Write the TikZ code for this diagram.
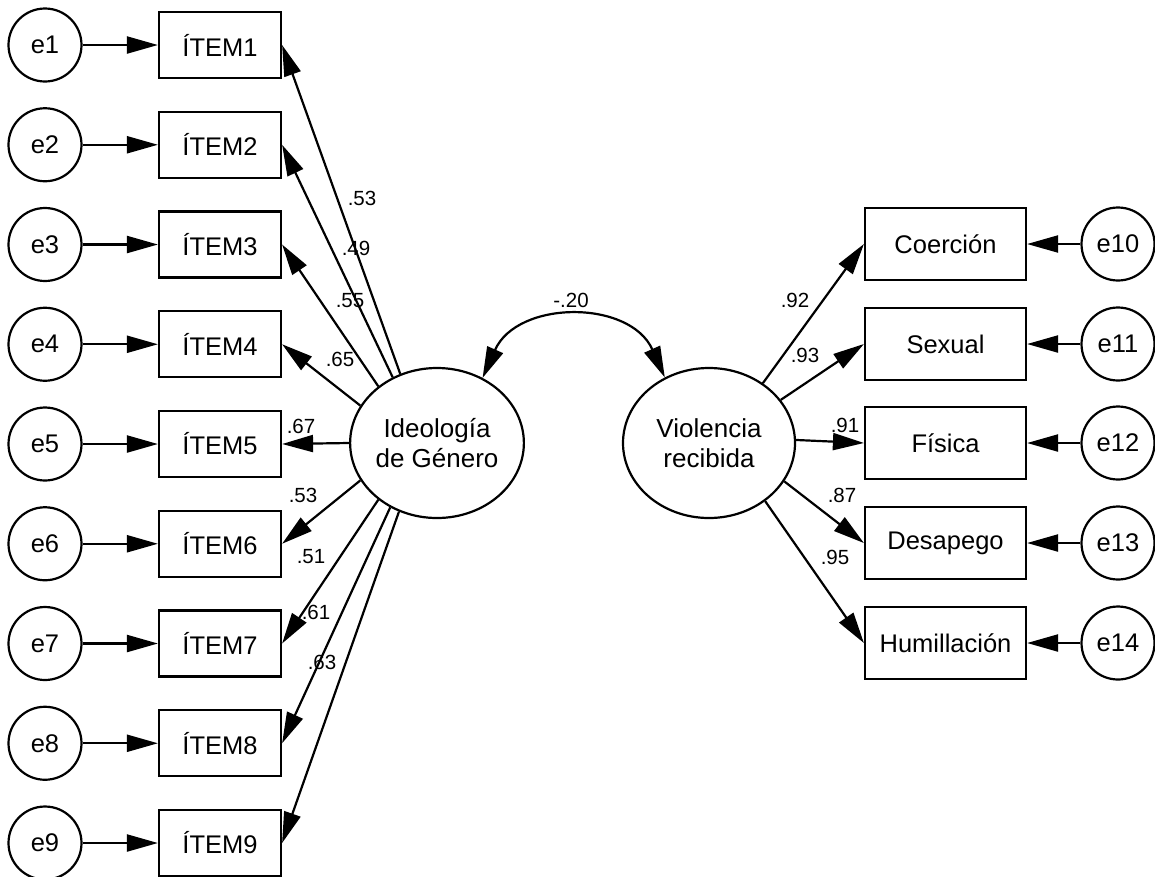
\documentclass[tikz,border=0pt]{standalone}
\usepackage{fontspec}
\setmainfont{Liberation Sans}
\usetikzlibrary{arrows.meta,shapes.geometric}
\begin{document}
\begin{tikzpicture}[x=1pt,y=-1pt,
  lw/.style={line width=2.2pt},
  errc/.style={circle,draw,lw,minimum size=73pt,inner sep=0pt,font=\fontsize{25.5}{30}\selectfont},
  itembox/.style={rectangle,draw,lw,minimum width=122pt,minimum height=66pt,inner sep=0pt,font=\fontsize{25.5}{30}\selectfont},
  rbox/.style={rectangle,draw,lw,minimum width=161pt,minimum height=72pt,inner sep=0pt,font=\fontsize{25.5}{30}\selectfont},
  latent/.style={ellipse,draw,lw,minimum width=172pt,minimum height=150pt,inner sep=0pt,align=center,font=\fontsize{26}{30}\selectfont},
  arr/.style={lw,-{Triangle[length=31pt,width=17pt]}},
  coef/.style={inner sep=0pt,font=\fontsize{20.5}{22}\selectfont}
]
\useasboundingbox (0,0) rectangle (1155,876);

% left side
\foreach \i/\y in {1/45,2/144.75,3/244.5,4/344.25,5/444,6/543.75,7/643.5,8/743.25,9/843}{
  \node[errc] (e\i) at (45,\y) {e\i};
  \node[itembox] (i\i) at (220,\y) {ÍTEM\i};
  \draw[arr] (e\i) -- (i\i);
}

\node[latent] (ideo) at (437,443) {Ideología\\de Género};
\node[latent] (viol) at (709,443) {Violencia\\recibida};

\draw[arr] (ideo.118.6) -- (i1.east);
\draw[arr] (ideo.124.7) -- (i2.east);
\draw[arr] (ideo.136.5) -- (i3.east);
\draw[arr] (ideo.154.4) -- (i4.east);
\draw[arr] (ideo.180) -- (i5.east);
\draw[arr] (ideo.206.9) -- (i6.east);
\draw[arr] (ideo.224) -- (i7.east);
\draw[arr] (ideo.234.9) -- (i8.east);
\draw[arr] (ideo.241.8) -- (i9.east);

\node[coef] (c1) at (362,198) {.53};
\node[coef] (c2) at (356,248) {.49};
\node[coef] (c3) at (350,301) {.55};
\node[coef] (c4) at (340,359) {.65};
\node[coef] (c5) at (301,426) {.67};
\node[coef] (c6) at (303,495) {.53};
\node[coef] (c7) at (311,557) {.51};
\node[coef] (c8) at (316,612) {.61};
\node[coef] (c9) at (322,662) {.63};

% covariance
\draw[lw,{Triangle[length=31pt,width=17pt]}-{Triangle[length=31pt,width=17pt]}]
  (ideo.55.9) to[out=66,in=114,looseness=1.2] (viol.124.1);
\node[coef] (cv) at (571,300) {-.20};

% right side
\foreach \j/\y/\t in {10/244/Coerción,11/344/Sexual,12/443/Física,13/543/Desapego,14/643/Humillación}{
  \node[rbox] (r\j) at (945.5,\y) {\t};
  \node[errc] (e\j) at (1118,\y) {e\j};
  \draw[arr] (e\j) -- (r\j);
}

\draw[arr] (viol.48) -- (r10.west);
\draw[arr] (viol.31) -- (r11.west);
\draw[arr] (viol.2) -- (r12.west);
\draw[arr] (viol.-27) -- (r13.west);
\draw[arr] (viol.-46.5) -- (r14.west);

\node[coef] (d1) at (795,300) {.92};
\node[coef] (d2) at (805,355) {.93};
\node[coef] (d3) at (845,425) {.91};
\node[coef] (d4) at (842,495) {.87};
\node[coef] (d5) at (835,557) {.95};
\end{tikzpicture}
\end{document}
